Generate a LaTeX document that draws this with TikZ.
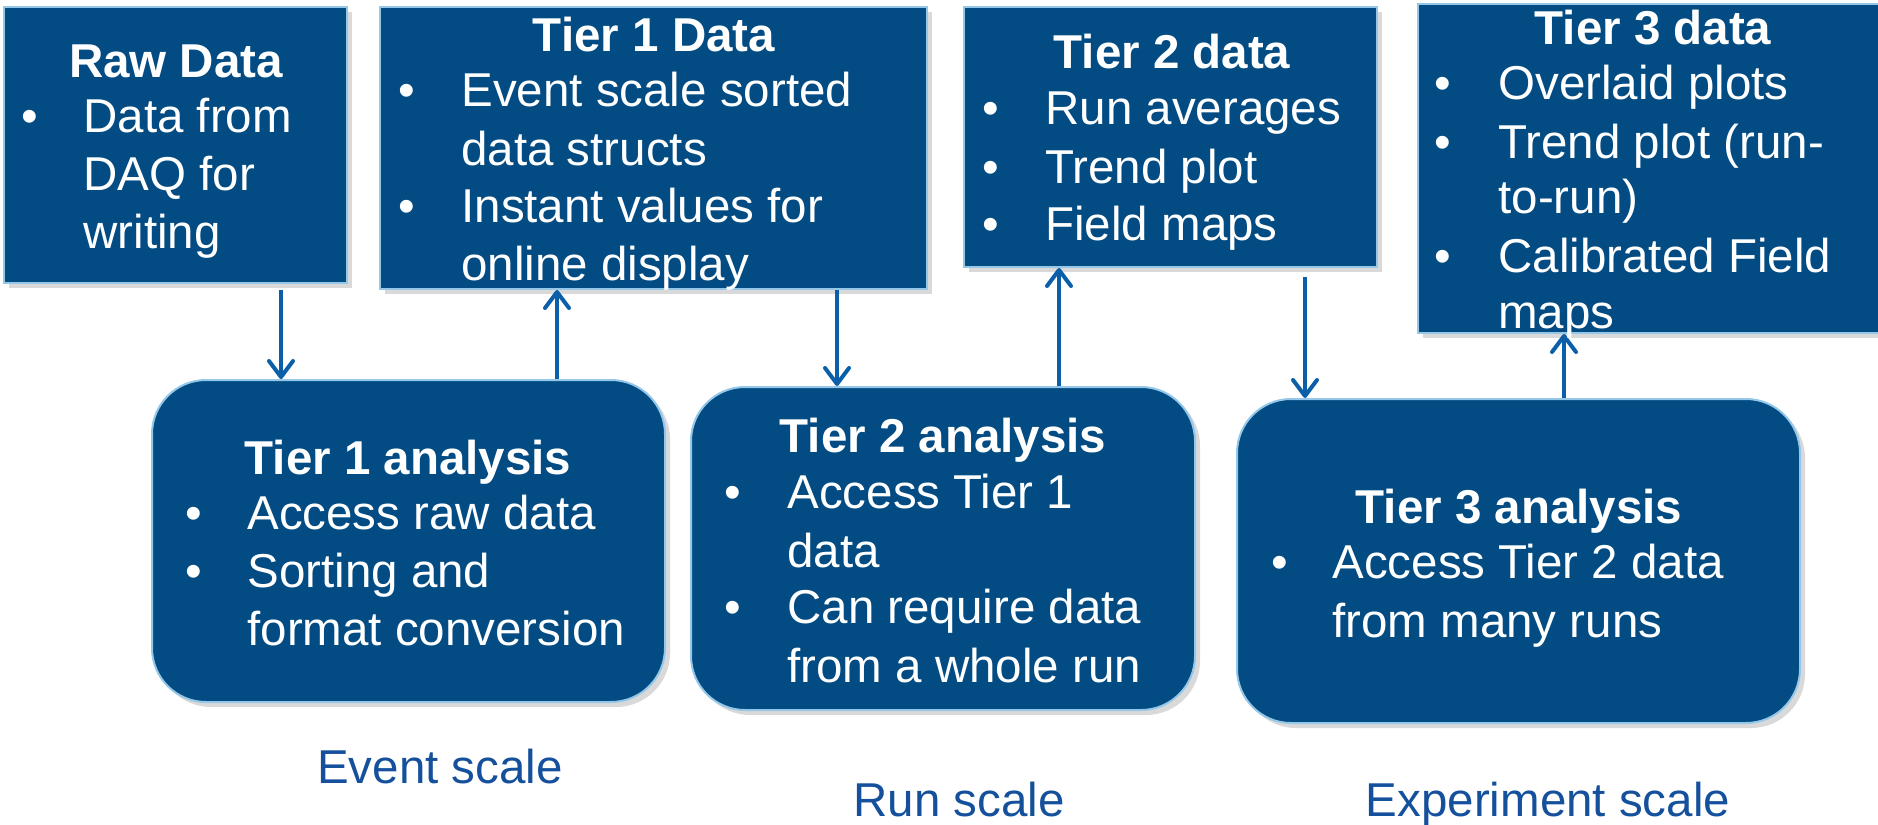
\documentclass[tikz,border=0pt]{standalone}
\usepackage{fontspec}
\setmainfont{Liberation Sans}
\usetikzlibrary{arrows.meta,shadows}
\definecolor{boxblue}{HTML}{034B83}
\definecolor{edgeblue}{HTML}{95C8E8}
\definecolor{arrowblue}{HTML}{0A5FA8}
\definecolor{labelblue}{HTML}{14509B}
\newcommand{\bodyfnt}{\fontsize{23.75}{28}\selectfont}
\begin{document}
\begin{tikzpicture}[x=0.5pt,y=-0.5pt,
  box/.style={fill=boxblue,draw=edgeblue,line width=1pt,inner sep=0pt,
    drop shadow={opacity=0.3,shadow xshift=2.5pt,shadow yshift=-2.5pt}},
  sqbox/.style={box},
  rbox/.style={box,rounded corners=27pt},
  ttl/.style={anchor=base,inner sep=0pt,text=white,font=\bodyfnt\bfseries},
  ln/.style={anchor=base west,inner sep=0pt,text=white,font=\bodyfnt},
  bul/.style={anchor=base,inner sep=0pt,text=white,font=\bodyfnt},
  scl/.style={anchor=base,inner sep=0pt,text=labelblue,font=\bodyfnt},
  arr/.style={draw=arrowblue,line width=2pt,
    -{Straight Barb[length=8pt,width=12pt,line cap=round,line join=round]}}
]
\useasboundingbox (0,0) rectangle (1878,824);

% boxes
\node[sqbox,minimum width=171.5pt,minimum height=138pt] (raw) at (175.5,145) {};
\node[sqbox,minimum width=273.5pt,minimum height=141pt] (t1d) at (653.5,148) {};
\node[sqbox,minimum width=206.5pt,minimum height=130pt] (t2d) at (1170.5,137) {};
\node[sqbox,minimum width=234pt,minimum height=164.5pt] (t3d) at (1652,168.5) {};
\node[rbox,minimum width=256.5pt,minimum height=161pt] (t1a) at (408.5,541) {};
\node[rbox,minimum width=252pt,minimum height=161.5pt] (t2a) at (943,548.5) {};
\node[rbox,minimum width=281.5pt,minimum height=162pt] (t3a) at (1518.5,561) {};

% arrows
\coordinate (a1) at (281,290);
\coordinate (a2) at (557,0);
\coordinate (a3) at (837,0);
\coordinate (a4) at (1059,0);
\coordinate (a5) at (1305,277);
\coordinate (a6) at (1564,0);
\draw[arr] (a1) -- (t1a.north -| a1);
\draw[arr] (t1a.north -| a2) -- (t1d.south -| a2);
\draw[arr] (t1d.south -| a3) -- (t2a.north -| a3);
\draw[arr] (t2a.north -| a4) -- (t2d.south -| a4);
\draw[arr] (a5) -- (t3a.north -| a5);
\draw[arr] (t3a.north -| a6) -- (t3d.south -| a6);

% Raw Data
\node[ttl] (rawT) at (176,78) {Raw Data};
\node[bul] (rawB1) at (30,133) {\textbullet};
\node[ln] (rawL1) at (83,133) {Data from};
\node[ln] (rawL2) at (83,191) {DAQ for};
\node[ln] (rawL3) at (83,248) {writing};

% Tier 1 Data
\node[ttl] (t1dT) at (654,52) {Tier 1 Data};
\node[bul] (t1dB1) at (407,107) {\textbullet};
\node[bul] (t1dB2) at (407,222) {\textbullet};
\node[ln] (t1dL1) at (461,107) {Event scale sorted};
\node[ln] (t1dL2) at (461,165) {data structs};
\node[ln] (t1dL3) at (461,222) {Instant values for};
\node[ln] (t1dL4) at (461,280) {online display};

% Tier 2 data
\node[ttl] (t2dT) at (1172,69) {Tier 2 data};
\node[bul] (t2dB1) at (991,125) {\textbullet};
\node[bul] (t2dB2) at (991,183) {\textbullet};
\node[bul] (t2dB3) at (991,240) {\textbullet};
\node[ln] (t2dL1) at (1045,125) {Run averages};
\node[ln] (t2dL2) at (1045,183) {Trend plot};
\node[ln] (t2dL3) at (1045,240) {Field maps};

% Tier 3 data
\node[ttl] (t3dT) at (1653,45) {Tier 3 data};
\node[bul] (t3dB1) at (1443,100) {\textbullet};
\node[bul] (t3dB2) at (1443,158) {\textbullet};
\node[bul] (t3dB3) at (1443,272) {\textbullet};
\node[ln] (t3dL1) at (1498,100) {Overlaid plots};
\node[ln] (t3dL2) at (1498,158) {Trend plot (run-};
\node[ln] (t3dL3) at (1498,213) {to-run)};
\node[ln] (t3dL4) at (1498,272) {Calibrated Field};
\node[ln] (t3dL5) at (1498,328) {maps};

% Tier 1 analysis
\node[ttl] (t1aT) at (408,474) {Tier 1 analysis};
\node[bul] (t1aB1) at (194,529) {\textbullet};
\node[bul] (t1aB2) at (194,587) {\textbullet};
\node[ln] (t1aL1) at (247,529) {Access raw data};
\node[ln] (t1aL2) at (247,587) {Sorting and};
\node[ln] (t1aL3) at (247,645) {format conversion};

% Tier 2 analysis
\node[ttl] (t2aT) at (943,452) {Tier 2 analysis};
\node[bul] (t2aB1) at (733,508) {\textbullet};
\node[bul] (t2aB2) at (733,623) {\textbullet};
\node[ln] (t2aL1) at (787,508) {Access Tier 1};
\node[ln] (t2aL2) at (787,567) {data};
\node[ln] (t2aL3) at (787,623) {Can require data};
\node[ln] (t2aL4) at (787,682) {from a whole run};

% Tier 3 analysis
\node[ttl] (t3aT) at (1519,523) {Tier 3 analysis};
\node[bul] (t3aB1) at (1280,578) {\textbullet};
\node[ln] (t3aL1) at (1332,578) {Access Tier 2 data};
\node[ln] (t3aL2) at (1332,637) {from many runs};

% scale labels
\node[scl] (evs) at (440,783) {Event scale};
\node[scl] (rns) at (959,816) {Run scale};
\node[scl] (exs) at (1548,816) {Experiment scale};
\end{tikzpicture}
\end{document}
